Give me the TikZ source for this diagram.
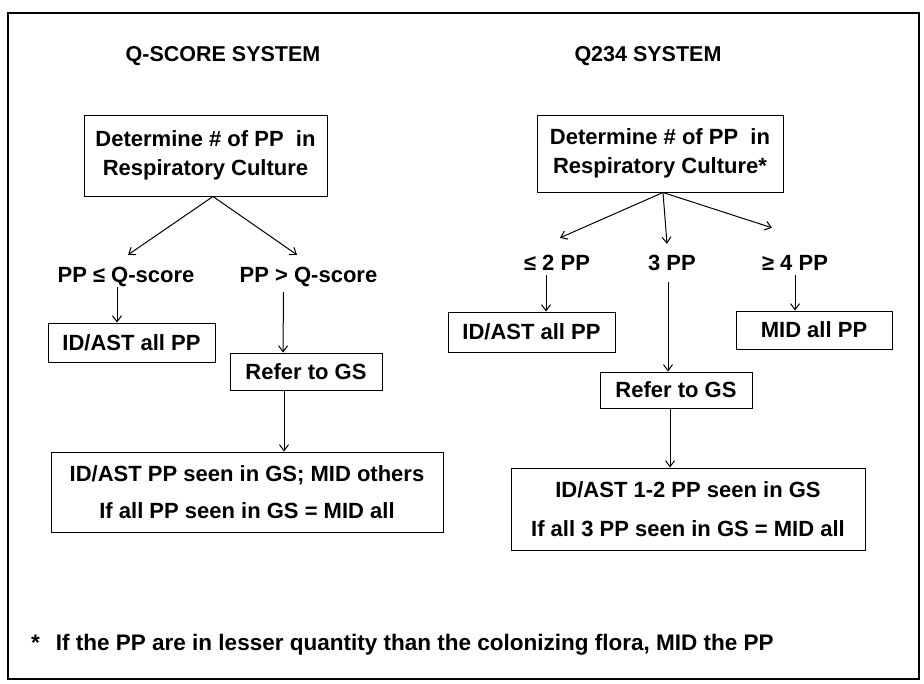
\documentclass[tikz,border=0pt]{standalone}
\usepackage{fontspec}
\setmainfont{Liberation Sans}
\usetikzlibrary{arrows.meta,calc}
\tikzset{
  boxnode/.style={draw, line width=1pt, inner sep=0pt, align=center,
    font=\bfseries\fontsize{22}{28.5}\selectfont},
  lbl/.style={inner sep=0pt, text height=16pt, text depth=4pt,
    font=\bfseries\fontsize{22}{28}\selectfont},
  ttl/.style={inner sep=0pt, font=\bfseries\fontsize{21.5}{24}\selectfont},
  arr/.style={line width=1pt, -{Straight Barb[length=6pt,width=9pt]}},
  ln/.style={line width=1pt}
}
\begin{document}
\begin{tikzpicture}[x=1pt,y=-1pt]
\useasboundingbox (0,0) rectangle (924,683);
\draw[line width=1.2pt] (8,13) rectangle (919,679);

% titles
\node[ttl] (tL) at (223,56) {Q-SCORE SYSTEM};
\node[ttl] (tR) at (648,56) {Q234 SYSTEM};

% left system
\node[boxnode, minimum width=243pt, minimum height=81pt] (lTop) at (205.5,155.5)
  {Determine \# of PP\ \ in\\Respiratory Culture};
\node[lbl] (lle) at (126,276) {PP ≤ Q-score};
\node[lbl] (lgt) at (308.5,276) {PP > Q-score};
\node[boxnode, minimum width=167pt, minimum height=39pt] (lid) at (131.5,342.5) {ID/AST all PP};
\node[boxnode, minimum width=152pt, minimum height=37pt] (lref) at (306,371.5) {Refer to GS};
\node[boxnode, minimum width=392pt, minimum height=80pt] (lbig) at (247,492)
  {ID/AST PP seen in GS; MID others\\[8pt]If all PP seen in GS = MID all};

\coordinate (lap) at ($(lTop.south)+(7.5,0)$);
\coordinate (ltip1) at ($(lle.north)+(2,-11)$);
\coordinate (ltip2) at ($(lgt.north)+(-11.5,-11)$);
\draw[arr] (lap) -- (ltip1);
\draw[arr] (lap) -- (ltip2);
\draw[arr] ($(lle.south)+(-9,1)$) -- ($(lid.north)+(-14.5,0)$);
\draw[arr] ($(lgt.south)+(-25,6)$) -- ($(lref.north)+(-23,0)$);
\draw[arr] ($(lref.south)+(-22,0)$) -- ($(lbig.north)+(37,0)$);

% right system
\node[boxnode, minimum width=246pt, minimum height=77pt] (rTop) at (660,153.5)
  {Determine \# of PP\ \ in\\Respiratory Culture*};
\node[lbl] (r1) at (557,264) {≤ 2 PP};
\node[lbl] (r2) at (672,264) {3 PP};
\node[lbl] (r3) at (795,264) {≥ 4 PP};
\node[boxnode, minimum width=167pt, minimum height=40pt] (rid) at (531.5,332) {ID/AST all PP};
\node[boxnode, minimum width=156pt, minimum height=38pt] (rmid) at (814,330) {MID all PP};
\node[boxnode, minimum width=152pt, minimum height=36pt] (rref) at (676,390) {Refer to GS};
\node[boxnode, minimum width=354pt, minimum height=82pt] (rbig) at (688,509)
  {ID/AST 1-2 PP seen in GS\\[10pt]If all 3 PP seen in GS = MID all};

\coordinate (rap) at ($(rTop.south)+(3,0)$);
\coordinate (rtip1) at ($(r1.north)+(3,-16)$);
\coordinate (rtip2) at ($(r2.north)+(-5,-10)$);
\coordinate (rtip3) at ($(r3.north)+(-23,-26)$);
\draw[arr] (rap) -- (rtip1);
\draw[arr] (rap) -- (rtip2);
\draw[arr] (rap) -- (rtip3);
\draw[arr] ($(r1.south)+(-11,1)$) -- ($(rid.north)+(14.5,0)$);
\draw[arr] ($(r2.south)+(-4,8)$) -- ($(rref.north)+(-8,0)$);
\draw[arr] ($(r3.south)+(0,1)$) -- ($(rmid.north)+(-19,0)$);
\draw[arr] ($(rref.south)+(-6,0)$) -- ($(rbig.north)+(-18,0)$);

% footnote
\node[inner sep=0pt, anchor=base west, font=\bfseries\fontsize{22.5}{27}\selectfont] (fn) at (31,650)
  {*\hspace{16pt}If the PP are in lesser quantity than the colonizing flora, MID the PP};
\end{tikzpicture}
\end{document}
